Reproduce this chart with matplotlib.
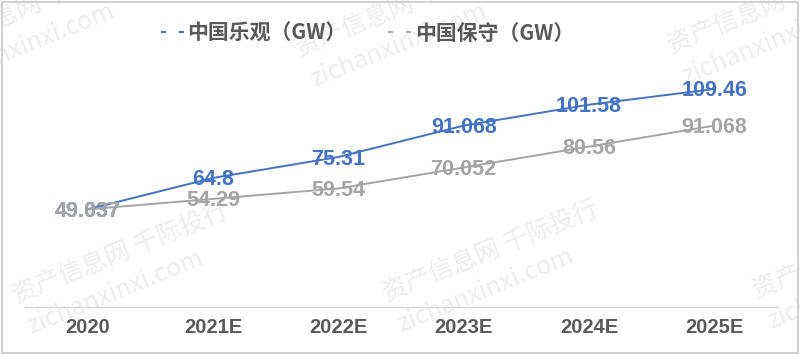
import matplotlib
matplotlib.use('Agg')
import matplotlib.pyplot as plt
from matplotlib.lines import Line2D
from matplotlib.patches import Rectangle
import numpy as np

# ---- data ----
categories = ['2020', '2021E', '2022E', '2023E', '2024E', '2025E']
optimistic = [49.037, 64.8, 75.31, 91.068, 101.58, 109.46]
conservative = [49.037, 54.29, 59.54, 70.052, 80.56, 91.068]
series_names = ['中国乐观（GW）', '中国保守（GW）']
watermark_cn = '资产信息网 千际投行'
watermark_url = 'zichanxinxi.com'

# ---- style ----
BLUE = '#4472C4'
GRAY = '#A5A5A5'
TEXT = '#595959'
W, H = 800, 355
NUM_FONT = ['Liberation Sans', 'DejaVu Sans']
CJK_FONT = ['Noto Sans CJK SC', 'DejaVu Sans']

fig = plt.figure(figsize=(W / 100, H / 100), dpi=100)
fig.patch.set_facecolor('white')

# watermarks (behind the chart)
ang = 22.0
ca, sa = np.cos(np.radians(ang)), np.sin(np.radians(ang))
wm_centers = [(-64, 45), (308, 45), (680, 42), (25, 292), (395, 290), (765, 287)]
for cx, cy in wm_centers:
    lx, ly = cx - 12.5 * ca, cy + 12.5 * sa
    fig.text(lx / W, 1 - ly / H, watermark_cn, rotation=ang, rotation_mode='anchor',
             ha='left', va='center', fontsize=18, color='#EEEEEE',
             family=CJK_FONT, zorder=0.1)
    zx, zy = cx + 9 - 6 * ca, cy + 33 + 6 * sa
    fig.text(zx / W, 1 - zy / H, watermark_url, rotation=ang, rotation_mode='anchor',
             ha='left', va='center', fontsize=18, color='#EEEEEE',
             family=CJK_FONT, zorder=0.1)

ax = fig.add_axes([25 / W, (H - 307) / H, 752 / W, 239 / H])
ax.set_zorder(1)
ax.patch.set_alpha(0)
ax.set_xlim(-0.5, len(categories) - 0.5)
ax.set_ylim(0, 120)

x = np.arange(len(categories))
ax.plot(x, optimistic, color=BLUE, lw=1.4, zorder=3, solid_capstyle='round')
ax.plot(x, conservative, color=GRAY, lw=1.4, zorder=3, solid_capstyle='round')

for vals, col in ((optimistic, BLUE), (conservative, GRAY)):
    for i, v in enumerate(vals):
        ax.annotate(f'{v:g}', (x[i], v), xytext=(0, -7.5), textcoords='offset pixels',
                    ha='center', va='baseline', fontsize=15.5, fontweight='bold',
                    color=col, family=NUM_FONT, zorder=4)

for s in ('top', 'left', 'right'):
    ax.spines[s].set_visible(False)
ax.spines['bottom'].set_color('#D9D9D9')
ax.spines['bottom'].set_linewidth(1.0)
ax.set_yticks([])
ax.set_xticks(x)
ax.set_xticklabels(categories, fontsize=14.5, fontweight='bold', color=TEXT, family=NUM_FONT)
ax.tick_params(axis='x', length=0, pad=8)

handles = [Line2D([], [], color=BLUE, lw=1.5, linestyle=(0, (2.4, 6.2))),
           Line2D([], [], color='#B0B0B0', lw=1.5, linestyle=(0, (2.4, 6.2)))]
leg = fig.legend(handles, series_names, loc='center', bbox_to_anchor=(367.5 / W, 1 - 33 / H),
                 ncol=2, frameon=False,
                 prop={'family': CJK_FONT, 'weight': 'bold', 'size': 15},
                 handlelength=1.15, handletextpad=0.12, columnspacing=2.0,
                 labelcolor=TEXT)

fig.patches.append(Rectangle((1.5 / W, 2 / H), (W - 3.5) / W, (H - 3.5) / H,
                             transform=fig.transFigure, fill=False,
                             edgecolor='#C8C8C8', lw=1.2, zorder=5))

fig.savefig('out.png', dpi=100, facecolor='white')
